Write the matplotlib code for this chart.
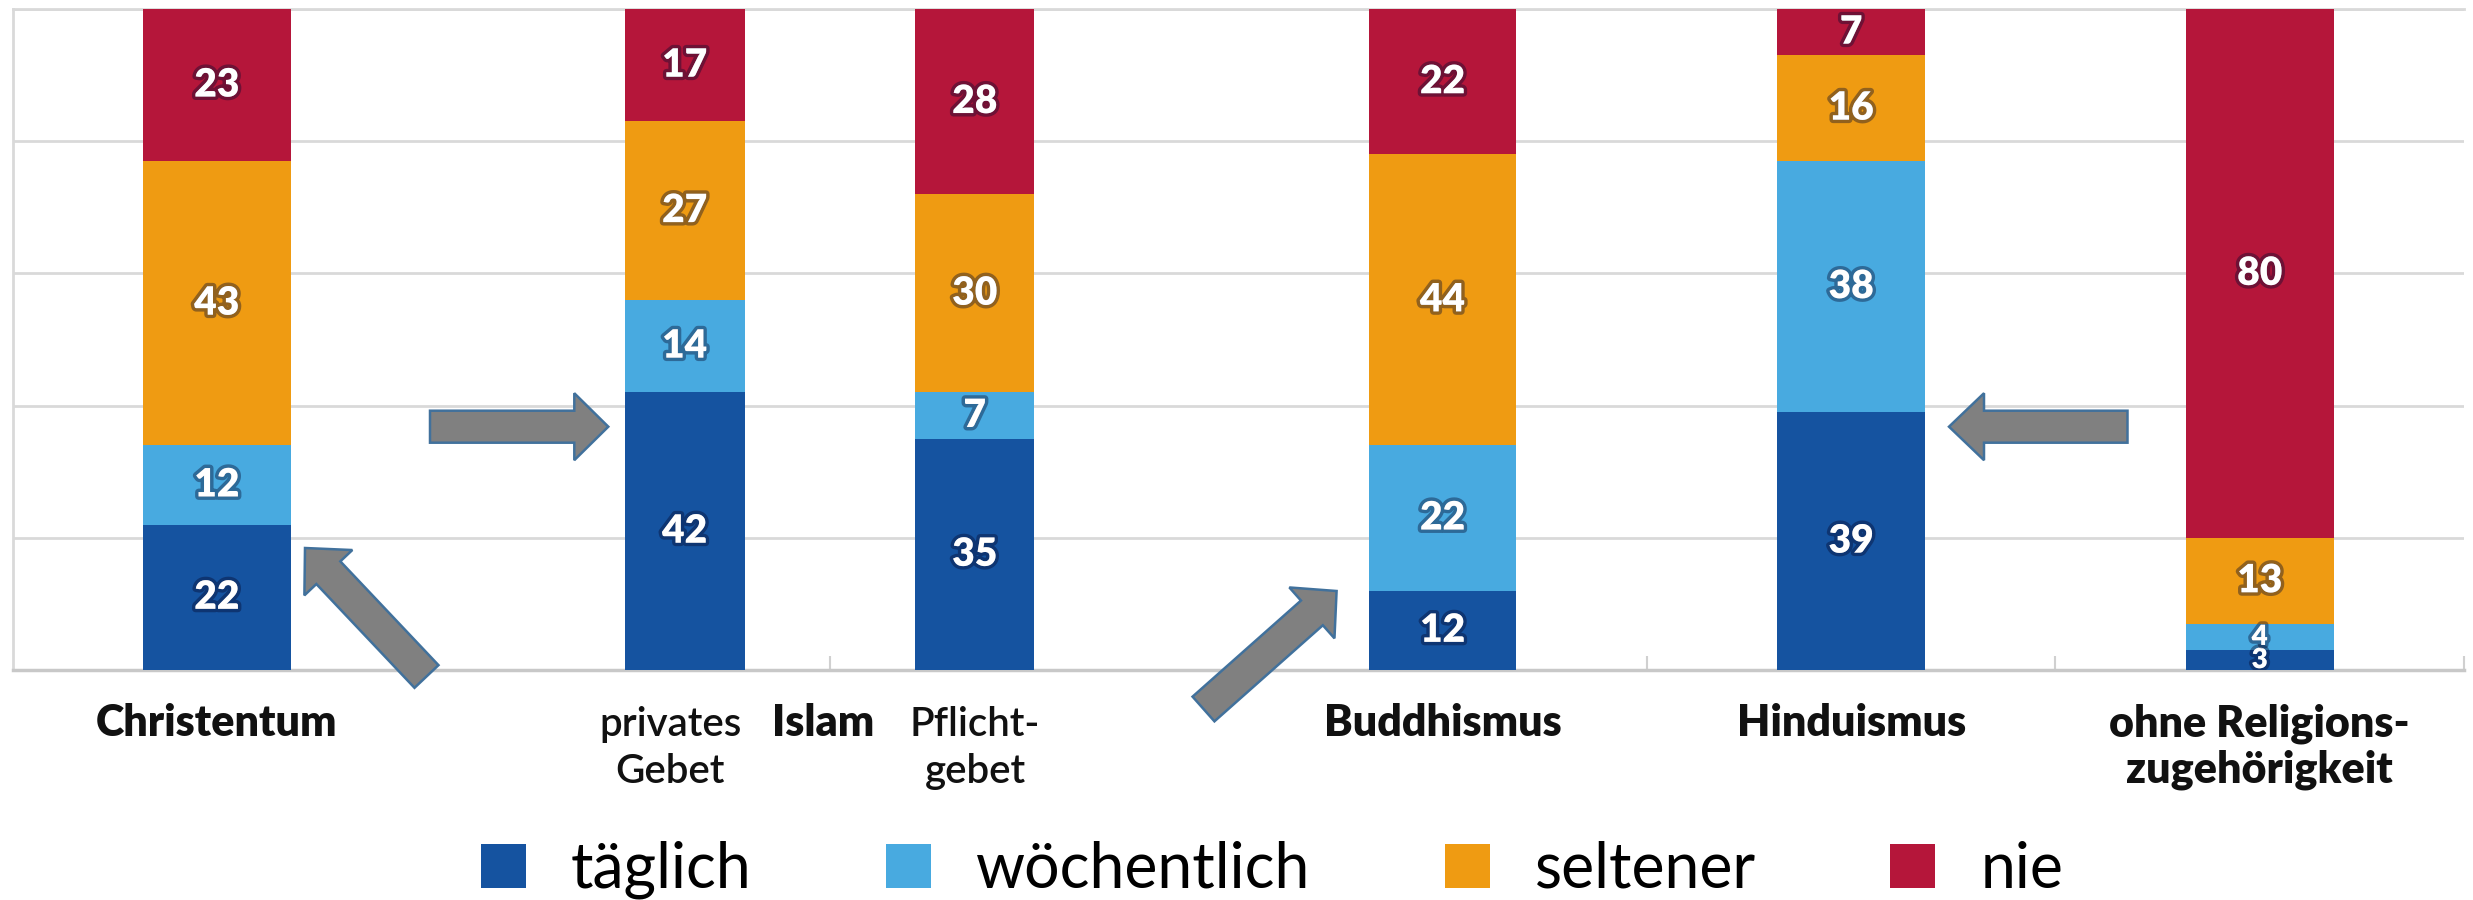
import numpy as np
import matplotlib
matplotlib.use("Agg")
import matplotlib.pyplot as plt
import matplotlib.patheffects as pe
from matplotlib.patches import Patch, Polygon

plt.rcParams['font.family'] = ['Lato', 'DejaVu Sans']

# ---------------- data ----------------
categories = ["Christentum", "privates\nGebet", "Pflicht-\ngebet",
              "Buddhismus", "Hinduismus", "ohne Religions-\nzugehörigkeit"]
series_names = ["täglich", "wöchentlich", "seltener", "nie"]
taeglich     = [22, 42, 35, 12, 39, 3]
woechentlich = [12, 14, 7, 22, 38, 4]
seltener     = [43, 27, 30, 44, 16, 13]
nie          = [23, 17, 28, 22, 7, 80]
group_label = "Islam"

# ---------------- layout / style ----------------
positions = [0.5, 1.645, 2.355, 3.5, 4.5, 5.5]
widths = [0.362, 0.294, 0.29, 0.362, 0.362, 0.362]
bold_labels = [True, False, False, True, True, True]
label_x = [0.5, 1.61, 2.356, 3.5, 4.5, 5.5]
islam_x = 1.985
colors = ["#1553A0", "#48AAE0", "#EF9B12", "#B5163A"]

W, H = 2473, 900
fig = plt.figure(figsize=(W / 100, H / 100), dpi=100)
ax = fig.add_axes([12.5 / W, 1 - 670 / H, (2464 - 12.5) / W, 661 / H])

series = [taeglich, woechentlich, seltener, nie]
bottoms = np.zeros(len(categories))
txt_fx = [pe.withStroke(linewidth=5, foreground=(0.02, 0.04, 0.18, 0.4))]
for vals, col in zip(series, colors):
    vals = np.array(vals, dtype=float)
    ax.bar(positions, vals, width=widths, bottom=bottoms, color=col,
           edgecolor='none', zorder=3)
    for x, v, b in zip(positions, vals, bottoms):
        fs = 28 if v >= 5 else 20
        ax.text(x, b + v / 2, f"{int(v)}", ha='center', va='center',
                fontsize=fs, fontweight='heavy', color='white',
                path_effects=txt_fx, zorder=5, clip_on=True)
    bottoms += vals

ax.set_xlim(0, 6)
ax.set_ylim(0, 100)
ax.set_yticks([0, 20, 40, 60, 80, 100])
ax.yaxis.grid(True, color='#d9d9d9', linewidth=2, zorder=0)
ax.set_axisbelow(True)
ax.tick_params(axis='y', left=False, labelleft=False)
ax.set_xticks([])
ax.set_xticks([1, 2, 3, 4, 5, 6], minor=True)
ax.tick_params(axis='x', which='minor', direction='in', length=10,
               width=1.5, color='#d0d0d0', labelbottom=False)
ax.spines['right'].set_visible(False)
ax.spines['top'].set_color('#d9d9d9')
ax.spines['top'].set_linewidth(2)
ax.spines['left'].set_color('#d9d9d9')
ax.spines['left'].set_linewidth(2)
ax.spines['bottom'].set_color('#c8c8c8')
ax.spines['bottom'].set_linewidth(2.5)

# category labels (baselines in pixels below axis)
tr = ax.get_xaxis_transform()
def y_of(py):
    return (670 - py) / 661.0

for lx, lab, b in zip(label_x, categories, bold_labels):
    for i, line in enumerate(lab.split("\n")):
        ax.text(lx, y_of(736 + 47 * i), line, transform=tr, ha='center',
                va='baseline', fontsize=31 if b else 29,
                fontweight='heavy' if b else 'semibold', color='#111111',
                clip_on=False)
ax.text(islam_x, y_of(736), group_label, transform=tr, ha='center',
        va='baseline', fontsize=31, fontweight='heavy', color='#111111',
        clip_on=False)

# arrows (annotation shapes, in image pixel coordinates)
def arrow_poly(tail, tip, w, hw, hl):
    t = np.array(tail, float); p = np.array(tip, float)
    u = (p - t) / np.linalg.norm(p - t)
    n = np.array([-u[1], u[0]])
    b = p - u * hl
    pts = [t + n * w / 2, b + n * w / 2, b + n * hw / 2, p,
           b - n * hw / 2, b - n * w / 2, t - n * w / 2]
    return [(q[0] / W, 1 - q[1] / H) for q in pts]

arrows = [((426.5, 676.5), (305, 548), 33, 66, 34),
          ((430, 426.7), (608.3, 426.7), 32, 67, 34),
          ((1203.5, 709), (1336.6, 591), 33, 68, 33),
          ((2127.5, 426.7), (1949, 426.7), 32, 67, 35)]
for a in arrows:
    fig.patches.append(Polygon(arrow_poly(*a), closed=True,
                               transform=fig.transFigure,
                               facecolor='#808080', edgecolor='#41719C',
                               linewidth=1.8, zorder=10))

handles = [Patch(facecolor=c, edgecolor='none') for c in colors]
fig.legend(handles, series_names, loc='center',
           bbox_to_anchor=(1272 / W, 1 - 870 / H), ncol=4, frameon=False,
           fontsize=45, handlelength=0.72, handleheight=0.72,
           handletextpad=0.72, columnspacing=2.15, borderpad=0)

fig.savefig("out.png", dpi=100)
